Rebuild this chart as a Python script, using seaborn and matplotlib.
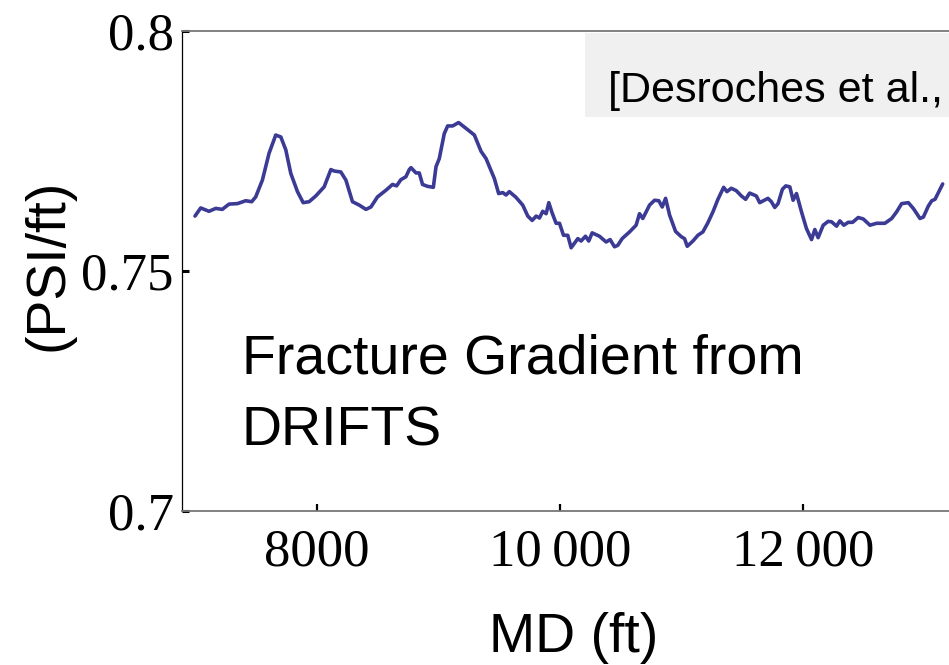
import matplotlib
matplotlib.use("Agg")
import matplotlib.pyplot as plt
from matplotlib.patches import Rectangle
import seaborn as sns
import pandas as pd

# Measured depth (ft) and fracture gradient (psi/ft) along the well
md_ft = [6994, 7041, 7109, 7165, 7219, 7274, 7343, 7412, 7461, 7494,
         7549, 7604, 7659, 7701, 7742, 7783, 7838, 7885, 7934, 7989,
         8058, 8113, 8140, 8195, 8237, 8291, 8346, 8402, 8443, 8497,
         8567, 8621, 8654, 8690, 8731, 8759, 8773, 8814, 8841, 8868,
         8910, 8957, 8979, 9006, 9047, 9075, 9116, 9165, 9226, 9295,
         9350, 9391, 9460, 9495, 9528, 9556, 9583, 9638, 9693, 9735,
         9771, 9804, 9831, 9858, 9886, 9908, 9935, 9968, 9996, 10029,
         10064, 10092, 10147, 10174, 10210, 10237, 10265, 10325, 10380, 10413,
         10449, 10476, 10512, 10573, 10627, 10655, 10682, 10738, 10779, 10814,
         10842, 10870, 10903, 10952, 10999, 11026, 11048, 11095, 11136, 11177,
         11218, 11260, 11301, 11348, 11375, 11411, 11452, 11494, 11529, 11562,
         11617, 11645, 11713, 11741, 11769, 11796, 11832, 11860, 11893, 11920,
         11948, 11989, 12030, 12072, 12099, 12126, 12168, 12209, 12237, 12278,
         12305, 12338, 12374, 12410, 12456, 12498, 12553, 12608, 12676, 12732,
         12773, 12814, 12869, 12910, 12965, 12993, 13034, 13062, 13089, 13152]

frac_grad = [0.7614, 0.7631, 0.7624, 0.7630, 0.7628, 0.7639, 0.7640, 0.7646, 0.7644, 0.7654,
             0.7689, 0.7745, 0.7783, 0.7779, 0.7752, 0.7703, 0.7665, 0.7642, 0.7644, 0.7656,
             0.7675, 0.7711, 0.7708, 0.7706, 0.7689, 0.7644, 0.7637, 0.7628, 0.7633, 0.7654,
             0.7668, 0.7680, 0.7677, 0.7690, 0.7696, 0.7711, 0.7715, 0.7704, 0.7704, 0.7680,
             0.7676, 0.7674, 0.7717, 0.7734, 0.7786, 0.7802, 0.7802, 0.7809, 0.7797, 0.7783,
             0.7749, 0.7734, 0.7692, 0.7661, 0.7663, 0.7658, 0.7665, 0.7653, 0.7637, 0.7614,
             0.7605, 0.7614, 0.7610, 0.7624, 0.7619, 0.7642, 0.7621, 0.7599, 0.7599, 0.7574,
             0.7574, 0.7548, 0.7567, 0.7562, 0.7572, 0.7562, 0.7579, 0.7572, 0.7560, 0.7565,
             0.7550, 0.7553, 0.7567, 0.7581, 0.7595, 0.7619, 0.7609, 0.7637, 0.7647, 0.7646,
             0.7633, 0.7651, 0.7616, 0.7582, 0.7571, 0.7567, 0.7551, 0.7562, 0.7574, 0.7581,
             0.7600, 0.7623, 0.7649, 0.7674, 0.7665, 0.7672, 0.7667, 0.7656, 0.7649, 0.7662,
             0.7656, 0.7642, 0.7651, 0.7644, 0.7632, 0.7640, 0.7670, 0.7677, 0.7675, 0.7647,
             0.7661, 0.7623, 0.7588, 0.7565, 0.7586, 0.7569, 0.7595, 0.7603, 0.7602, 0.7593,
             0.7604, 0.7595, 0.7601, 0.7601, 0.7611, 0.7608, 0.7595, 0.7599, 0.7599, 0.7609,
             0.7623, 0.7640, 0.7642, 0.7630, 0.7609, 0.7612, 0.7635, 0.7646, 0.7649, 0.7681]

x_ticks = [8000, 10000, 12000]
x_tick_labels = ["8000", "10\u2009000", "12\u2009000"]
y_ticks = [0.7, 0.75, 0.8]
y_tick_labels = ["0.7", "0.75", "0.8"]

sns.set_style("white")
plt.rcParams["font.family"] = ["Liberation Sans", "DejaVu Sans"]
plt.rcParams.update({
    "text.color": "black",
    "axes.labelcolor": "black",
    "xtick.color": "black",
    "ytick.color": "black",
    "xtick.direction": "in",
    "ytick.direction": "in",
    "xtick.bottom": True,
    "ytick.left": True,
})

SANS = ["Liberation Sans", "DejaVu Sans"]
SERIF = ["Liberation Serif", "DejaVu Serif"]

W, H = 949, 665
AX_L, AX_B, AX_T = 182, 510.5, 31          # axes edges in pixels
ax_w, ax_h = W - AX_L, AX_B - AX_T


def ax_x(px):
    return (px - AX_L) / ax_w


def ax_y(py):
    return (AX_B - py) / ax_h


fig = plt.figure(figsize=(W / 100, H / 100), dpi=100)
ax = fig.add_axes([AX_L / W, 1 - AX_B / H, ax_w / W, ax_h / H])

df = pd.DataFrame({"md": md_ft, "fg": frac_grad})
sns.lineplot(data=df, x="md", y="fg", ax=ax, color="#3b3b95", linewidth=2.6,
             estimator=None, sort=False)

ax.set_xlim(6887, 13204)
ax.set_ylim(0.7, 0.8)

ax.set_xticks(x_ticks)
ax.set_xticklabels(x_tick_labels, fontfamily=SERIF, fontsize=38)
ax.set_yticks(y_ticks)
ax.set_yticklabels(y_tick_labels, fontfamily=SERIF, fontsize=38)
ax.tick_params(axis="x", which="major", bottom=True, direction="in", length=5,
               width=1.6, color="black", pad=13)
ax.tick_params(axis="y", which="major", left=True, direction="in", length=5,
               width=2.2, color="black", pad=6)

ax.set_xlabel("MD (ft)", fontfamily=SANS, fontsize=40, va="baseline")
ax.xaxis.set_label_coords(ax_x(574), ax_y(652))
ax.set_ylabel("(PSI/ft)", fontfamily=SANS, fontsize=40, va="baseline")
ax.yaxis.set_label_coords(ax_x(62), ax_y(265))

ax.spines["right"].set_visible(False)
ax.spines["left"].set_color("black")
ax.spines["left"].set_linewidth(0.9)
for side in ["top", "bottom"]:
    ax.spines[side].set_color("#777777")
    ax.spines[side].set_linewidth(1.3)

# Citation box in the upper right corner
ax.add_patch(Rectangle((ax_x(585), ax_y(117)), 0.6, ax_y(33) - ax_y(117),
                       transform=ax.transAxes, facecolor="#f0f0f0", edgecolor="none",
                       clip_on=False, zorder=1))
ax.text(ax_x(608), ax_y(102), "[Desroches et al.,",
        transform=ax.transAxes, fontfamily=SANS, fontsize=31,
        ha="left", va="baseline", zorder=2)

ax.text(ax_x(242), ax_y(374), "Fracture Gradient from",
        transform=ax.transAxes, fontfamily=SANS, fontsize=40,
        ha="left", va="baseline")
ax.text(ax_x(242), ax_y(445), "DRIFTS",
        transform=ax.transAxes, fontfamily=SANS, fontsize=40,
        ha="left", va="baseline")

fig.savefig("out.png", dpi=100)
